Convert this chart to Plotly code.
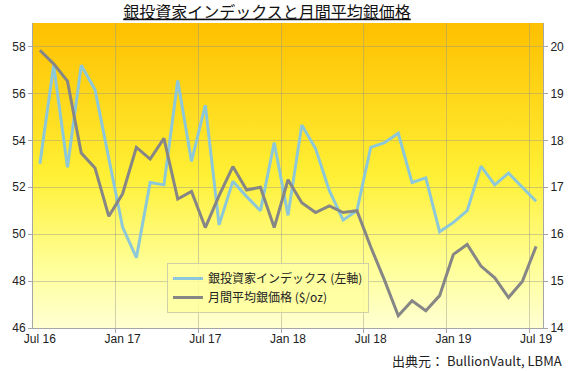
import base64
import plotly.graph_objects as go

months = ["Jul 16", "Aug 16", "Sep 16", "Oct 16", "Nov 16", "Dec 16",
          "Jan 17", "Feb 17", "Mar 17", "Apr 17", "May 17", "Jun 17",
          "Jul 17", "Aug 17", "Sep 17", "Oct 17", "Nov 17", "Dec 17",
          "Jan 18", "Feb 18", "Mar 18", "Apr 18", "May 18", "Jun 18",
          "Jul 18", "Aug 18", "Sep 18", "Oct 18", "Nov 18", "Dec 18",
          "Jan 19", "Feb 19", "Mar 19", "Apr 19", "May 19", "Jun 19", "Jul 19"]

investor_index = [53.0, 57.2, 52.85, 57.2, 56.15, 53.2,
                  50.3, 49.0, 52.2, 52.1, 56.55, 53.1,
                  55.5, 50.4, 52.25, 51.6, 51.0, 53.9,
                  50.8, 54.65, 53.65, 51.85, 50.6, 51.0,
                  53.7, 53.9, 54.3, 52.2, 52.4, 50.1,
                  50.5, 51.0, 52.9, 52.1, 52.6, 52.0, 51.4]

silver_price = [19.92, 19.63, 19.26, 17.73, 17.41, 16.38,
                16.86, 17.85, 17.6, 18.04, 16.75, 16.91,
                16.14, 16.82, 17.44, 16.94, 17.0, 16.14,
                17.16, 16.67, 16.46, 16.6, 16.46, 16.5,
                15.73, 15.02, 14.26, 14.58, 14.37, 14.69,
                15.57, 15.78, 15.32, 15.07, 14.65, 14.99, 15.74]

tick_labels = ["Jul 16", "Jan 17", "Jul 17", "Jan 18", "Jul 18", "Jan 19", "Jul 19"]
left_ticks = [46, 48, 50, 52, 54, 56, 58]
right_ticks = [14, 15, 16, 17, 18, 19, 20]

x_idx = list(range(len(months)))
tick_pos = [months.index(t) for t in tick_labels]
grid_pos = [p - 0.5 for p in tick_pos[1:]]

svg = ('<svg xmlns="http://www.w3.org/2000/svg" width="100" height="100" preserveAspectRatio="none">'
       '<defs><linearGradient id="g" x1="0" y1="0" x2="0" y2="1">'
       '<stop offset="0" stop-color="#FFC000"/>'
       '<stop offset="0.5" stop-color="#FFF035"/>'
       '<stop offset="0.8" stop-color="#FFFF99"/>'
       '<stop offset="1" stop-color="#FFFFD2"/>'
       '</linearGradient></defs><rect width="100" height="100" fill="url(#g)"/></svg>')
bg_src = "data:image/svg+xml;base64," + base64.b64encode(svg.encode()).decode()

FONT = "Liberation Sans, Arial, Noto Sans CJK JP, sans-serif"
CJK = "Noto Sans CJK JP, Liberation Sans, sans-serif"

fig = go.Figure()
fig.add_trace(go.Scatter(x=x_idx, y=investor_index, mode="lines",
                         name="銀投資家インデックス (左軸)",
                         line=dict(color="#8CC8DA", width=3)))
fig.add_trace(go.Scatter(x=x_idx, y=silver_price, mode="lines",
                         name="月間平均銀価格 ($/oz)", yaxis="y2",
                         line=dict(color="#868686", width=3)))

axis_line = "#A6A6A6"
grid_col = "rgba(150,150,140,0.45)"

fig.update_layout(
    width=576, height=371,
    margin=dict(l=33, r=29, t=23, b=43),
    paper_bgcolor="white",
    plot_bgcolor="rgba(0,0,0,0)",
    font=dict(family=FONT, size=12, color="#222222"),
    images=[dict(source=bg_src, xref="paper", yref="paper", x=0, y=1,
                 sizex=1, sizey=1, sizing="stretch", layer="below")],
    title=dict(text="<u>銀投資家インデックスと月間平均銀価格</u>",
               x=267/576, xanchor="center", xref="container",
               y=1 - 12/371, yanchor="middle", yref="container",
               font=dict(family=CJK, size=16, color="#111111")),
    xaxis=dict(range=[-0.5, len(months) - 0.5], tickvals=tick_pos, ticktext=tick_labels,
               showgrid=False, ticks="", showline=True, linecolor=axis_line, linewidth=1,
               zeroline=False, tickfont=dict(size=12),
               minor=dict(tickvals=grid_pos, showgrid=True, gridcolor=grid_col, gridwidth=1,
                          ticks="outside", ticklen=4, tickcolor=axis_line)),
    yaxis=dict(range=[46, 59], tickvals=left_ticks, showgrid=True, gridcolor=grid_col,
               gridwidth=1, showline=True, linecolor=axis_line, linewidth=1,
               ticks="outside", ticklen=4, tickcolor=axis_line, zeroline=False,
               tickfont=dict(size=12)),
    yaxis2=dict(range=[14, 20.5], tickvals=right_ticks, overlaying="y", side="right",
                showgrid=False, showline=True, linecolor=axis_line, linewidth=1,
                ticks="outside", ticklen=4, tickcolor=axis_line, zeroline=False,
                tickfont=dict(size=12)),
    legend=dict(x=(168 - 33) / 514, y=(328 - 263) / 305, xanchor="left", yanchor="top",
                bgcolor="rgba(255,255,160,0.85)", bordercolor="#CFCFA8", borderwidth=1,
                font=dict(family=CJK, size=12, color="#222222"),
                itemwidth=30, tracegroupgap=4),
    showlegend=True,
    annotations=[dict(text="出典元： BullionVault, LBMA", xref="paper", yref="paper",
                      x=(568 - 33) / 514, y=-(360 - 328) / 305, xanchor="right",
                      yanchor="middle", showarrow=False,
                      font=dict(family=CJK, size=13, color="#222222"))],
)

fig.write_html("out.html", config={"displayModeBar": False},
               post_script="document.body.style.margin='0';document.body.style.overflow='hidden';")
